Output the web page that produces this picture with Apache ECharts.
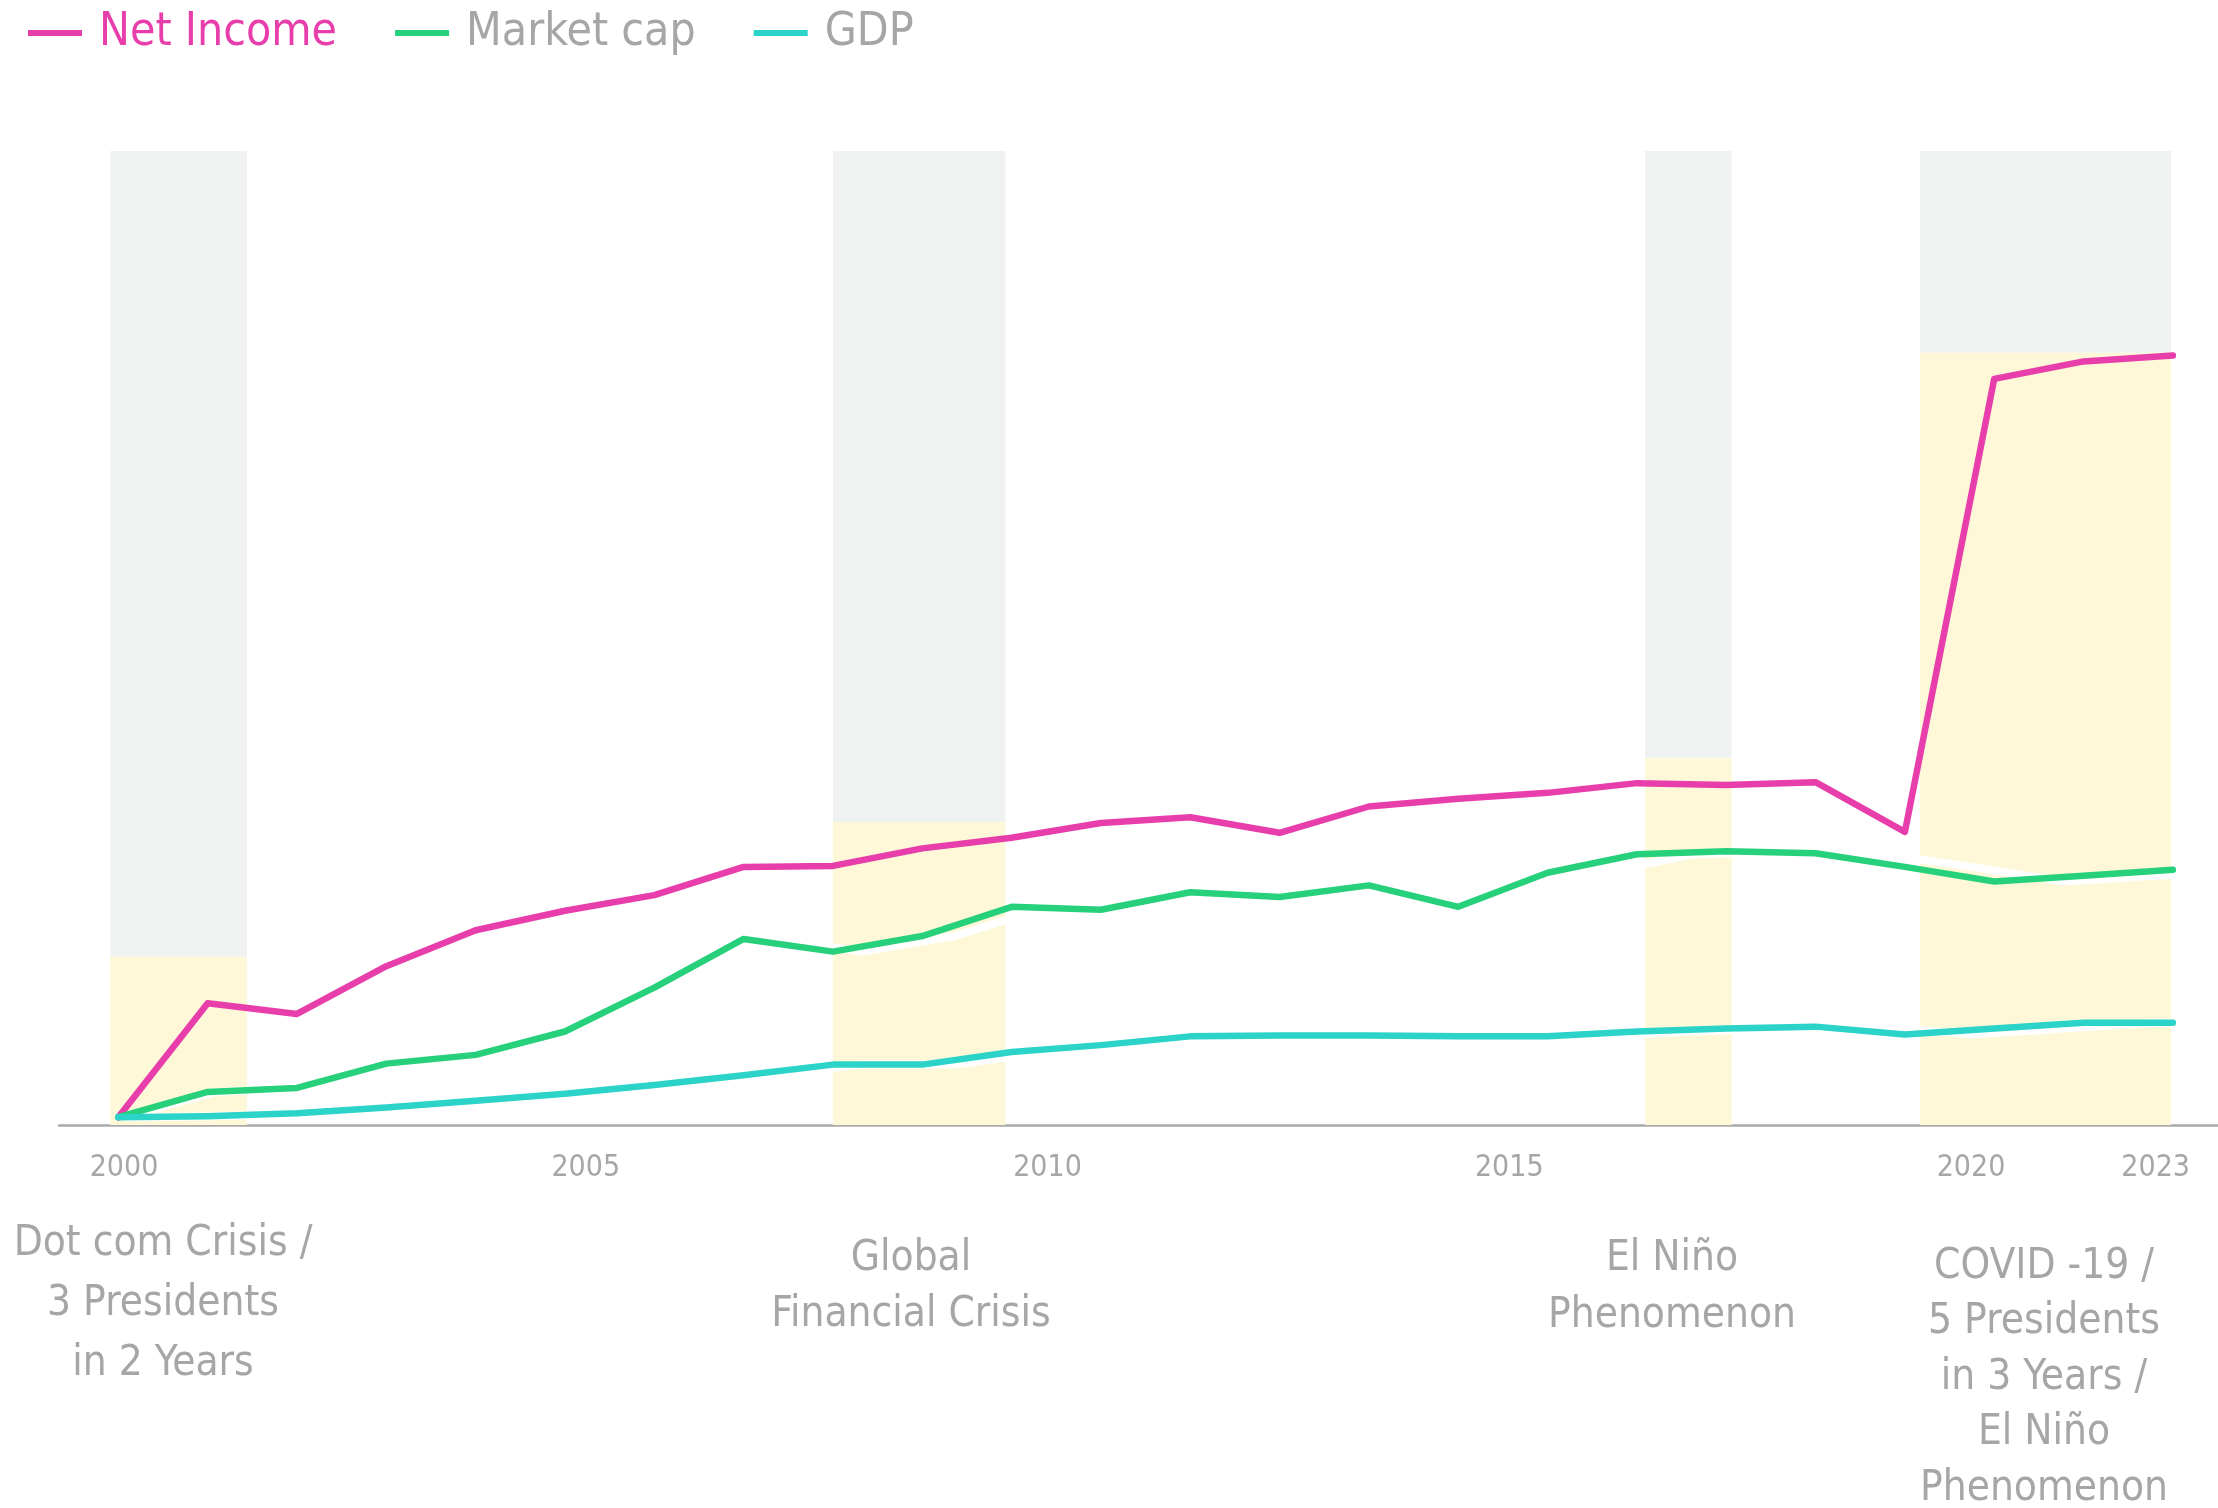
<!DOCTYPE html>
<html>
<head>
<meta charset="utf-8">
<script src="https://cdn.jsdelivr.net/npm/echarts@6/dist/echarts.min.js"></script>
<style>
  html, body { margin: 0; padding: 0; background: #ffffff; }
  #chart { width: 2218px; height: 1508px; }
</style>
</head>
<body>
<div id="chart"></div>
<script>
// ---------------- data ----------------
var years = [2000, 2001, 2002, 2003, 2004, 2005, 2006, 2007, 2008, 2009, 2010, 2011,
             2012, 2013, 2014, 2015, 2016, 2017, 2018, 2019, 2020, 2021, 2022, 2023];
var netIncome = [0.8, 12.5, 11.4, 16.3, 20.0, 22.0, 23.6, 26.5, 26.6, 28.4, 29.5, 31.0,
                 31.6, 30.0, 32.7, 33.5, 34.1, 35.1, 34.9, 35.2, 30.1, 76.6, 78.4, 79.0];
var marketCap = [0.8, 3.4, 3.8, 6.3, 7.2, 9.6, 14.1, 19.1, 17.8, 19.4, 22.4, 22.1,
                 23.9, 23.4, 24.6, 22.4, 25.9, 27.8, 28.1, 27.9, 26.5, 25.0, 25.6, 26.2];
var gdp = [0.8, 0.9, 1.2, 1.8, 2.5, 3.2, 4.1, 5.1, 6.2, 6.2, 7.5, 8.2,
           9.1, 9.2, 9.2, 9.1, 9.1, 9.6, 9.9, 10.1, 9.3, 9.9, 10.5, 10.5];

// crisis bands (years on the data axis), yellow level and full height
var bandStart = [1999.91, 2008.0, 2017.09, 2020.17];
var bandEnd   = [2001.44, 2009.93, 2018.06, 2022.98];
var bandLevel = [17.3, 31.1, 37.7, 79.3];
var bandTop   = [100, 100, 100, 100];

// tick labels (positions on the label axis)
var tickValues = [2000, 2005, 2010, 2015, 2020, 2022];
var tickLabels = ['2000', '2005', '2010', '2015', '2020', '2023'];

// annotations
var annotations = [
  ['Dot com Crisis /', '3 Presidents', 'in 2 Years'],
  ['Global', 'Financial Crisis'],
  ['El Niño', 'Phenomenon'],
  ['COVID -19 /', '5 Presidents', 'in 3 Years /', 'El Niño', 'Phenomenon']
];

// ---------------- styling ----------------
var FONT = '"DejaVu Sans Condensed", "Liberation Sans Narrow", "DejaVu Sans", sans-serif';
var PINK = '#E83EAB';
var GREEN = '#27D07B';
var CYAN = '#2BD3C9';
var GREY_TEXT = '#A6A6A6';
var YELLOW = '#FEF8D8';
var GREY_BAND = '#F0F2F1';

function pairs(vals) {
  return years.map(function (y, i) { return [y, vals[i]]; });
}

var areaData = [];
for (var i = 0; i < bandStart.length; i++) {
  areaData.push([{ xAxis: bandStart[i], yAxis: 0, itemStyle: { color: YELLOW } },
                 { xAxis: bandEnd[i], yAxis: bandLevel[i] }]);
  areaData.push([{ xAxis: bandStart[i], yAxis: bandLevel[i], itemStyle: { color: GREY_BAND } },
                 { xAxis: bandEnd[i], yAxis: bandTop[i] }]);
}

// annotation layout (pixel positions of block centres / first line tops)
var annLayout = [
  { x: 163, y: 1214, lh: 60 },
  { x: 911, y: 1231, lh: 56 },
  { x: 1672, y: 1231, lh: 57 },
  { x: 2044, y: 1239, lh: 55.5 }
];
var graphics = annotations.map(function (lines, i) {
  return {
    type: 'text',
    x: annLayout[i].x,
    y: annLayout[i].y,
    silent: true,
    style: {
      text: lines.join('\n'),
      font: '42px ' + FONT,
      fill: GREY_TEXT,
      textAlign: 'center',
      textVerticalAlign: 'top',
      lineHeight: annLayout[i].lh
    }
  };
});

var chart = echarts.init(document.getElementById('chart'), null, { renderer: 'canvas' });
chart.setOption({
  animation: false,
  backgroundColor: '#ffffff',
  legend: {
    left: 28,
    top: 7,
    padding: 0,
    icon: 'rect',
    itemWidth: 54,
    itemHeight: 6,
    itemGap: 58,
    textStyle: { fontFamily: FONT, fontSize: 46, color: GREY_TEXT, lineHeight: 52, padding: [0, 0, 0, 12] },
    data: [
      { name: 'Net Income', textStyle: { color: PINK } },
      { name: 'Market cap' },
      { name: 'GDP' }
    ]
  },
  grid: { left: 59, right: 0, top: 151, bottom: 383, containLabel: false },
  xAxis: [
    {
      type: 'value',
      min: 1999.336,
      max: 2023.505,
      axisLine: { show: true, lineStyle: { color: '#AAAAAA', width: 2.5 } },
      axisTick: { show: false },
      axisLabel: { show: false },
      splitLine: { show: false }
    },
    {
      type: 'value',
      position: 'bottom',
      min: 1999.296,
      max: 2022.675,
      axisLine: { show: false },
      axisTick: { show: false },
      splitLine: { show: false },
      axisLabel: {
        show: true,
        customValues: tickValues,
        margin: 28,
        fontFamily: FONT,
        fontSize: 30,
        color: GREY_TEXT,
        formatter: function (v) {
          var idx = tickValues.indexOf(v);
          return idx >= 0 ? tickLabels[idx] : '';
        }
      }
    }
  ],
  yAxis: {
    type: 'value',
    min: 0,
    max: 100,
    show: false,
    splitLine: { show: false }
  },
  graphic: graphics,
  series: [
    {
      name: 'Market cap halo',
      type: 'line',
      xAxisIndex: 1,
      data: pairs(marketCap),
      symbol: 'none',
      silent: true,
      z: 2,
      lineStyle: { color: '#ffffff', width: 8 }
    },
    {
      name: 'GDP halo',
      type: 'line',
      xAxisIndex: 1,
      data: pairs(gdp),
      symbol: 'none',
      silent: true,
      z: 2,
      lineStyle: { color: '#ffffff', width: 8 }
    },
    {
      name: 'Net Income',
      type: 'line',
      xAxisIndex: 0,
      data: pairs(netIncome),
      symbol: 'none',
      z: 3,
      color: PINK,
      lineStyle: { color: PINK, width: 6.5, cap: 'round', join: 'round' },
      markArea: { silent: true, z: 1, data: areaData }
    },
    {
      name: 'Market cap',
      type: 'line',
      xAxisIndex: 0,
      data: pairs(marketCap),
      symbol: 'none',
      z: 3,
      color: GREEN,
      lineStyle: { color: GREEN, width: 6.5, cap: 'round', join: 'round' }
    },
    {
      name: 'GDP',
      type: 'line',
      xAxisIndex: 0,
      data: pairs(gdp),
      symbol: 'none',
      z: 3,
      color: CYAN,
      lineStyle: { color: CYAN, width: 6.5, cap: 'round', join: 'round' }
    }
  ]
});
</script>
</body>
</html>
